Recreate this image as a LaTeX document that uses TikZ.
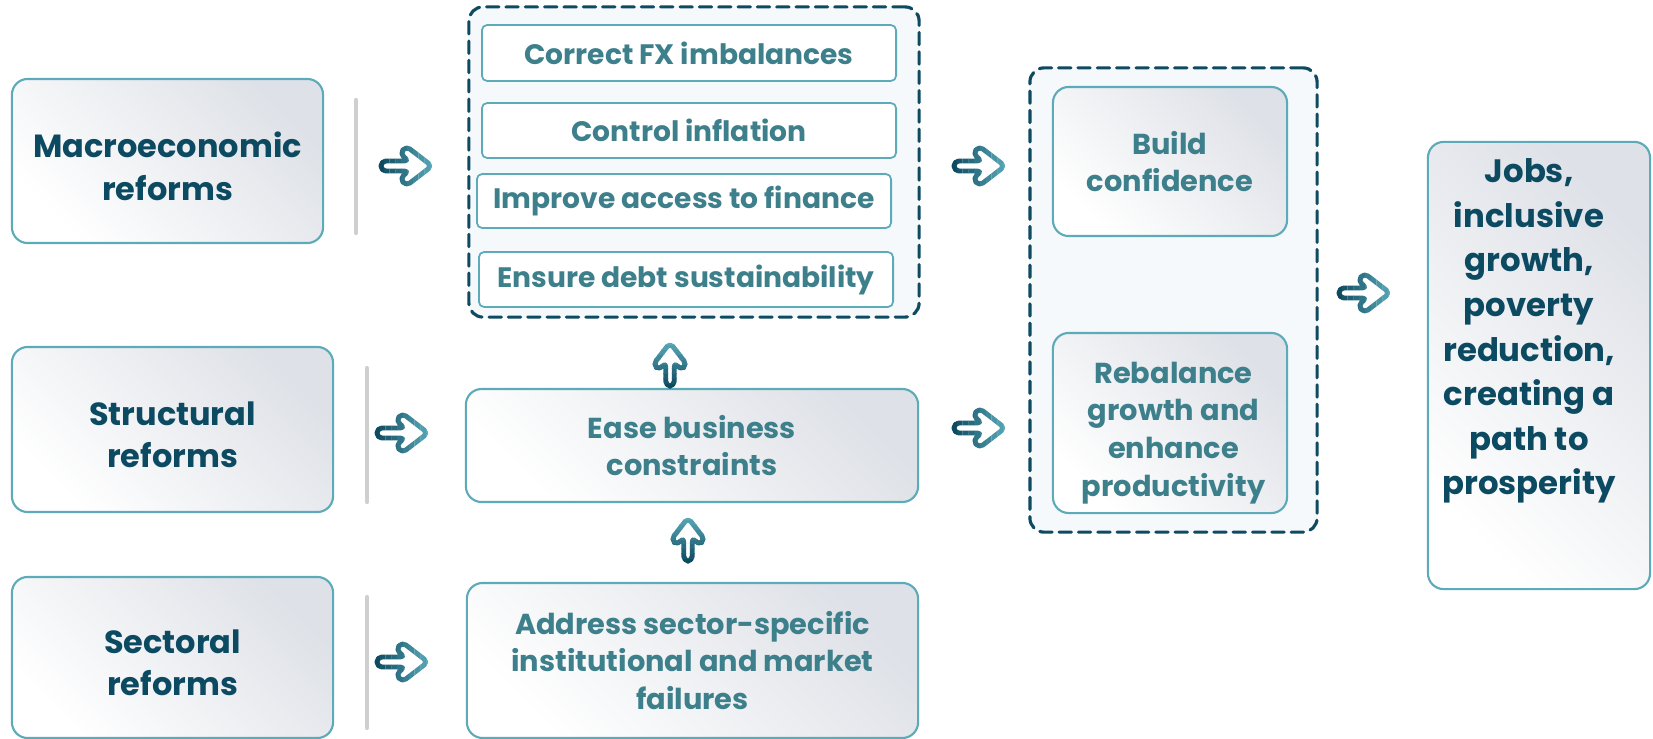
\documentclass[tikz,border=0pt]{standalone}
\usepackage{fontspec}
\setmainfont{Poppins}
\usetikzlibrary{positioning}
\definecolor{darktext}{HTML}{0C4A62}
\definecolor{midtext}{HTML}{3D808C}
\definecolor{bordteal}{HTML}{5DAAB8}
\definecolor{dashteal}{HTML}{0E4A60}
\definecolor{boxgray}{HTML}{DEE1E7}
\definecolor{dashfill}{HTML}{F5F9FB}
\definecolor{arrowdark}{HTML}{0E4A60}
\definecolor{arrowlight}{HTML}{5AAAB9}
\definecolor{sepgray}{HTML}{CFCFCF}
\tikzset{
	lbox/.style={draw=bordteal, line width=0.6pt, rounded corners=4.5pt, inner sep=0pt,
		left color=white, right color=boxgray, shading angle=135},
	ltext/.style={text=darktext, align=center, font=\bfseries\fontsize{9.1}{12.2}\selectfont},
	mbox/.style={lbox, text=midtext, align=center, font=\bfseries\fontsize{8.2}{10.7}\selectfont},
	mtext/.style={text=midtext, align=center, font=\bfseries\fontsize{8.2}{10.7}\selectfont},
	ibox/.style={draw=bordteal, line width=0.5pt, rounded corners=1.5pt, fill=white, inner sep=0pt,
		text=midtext, align=center, font=\bfseries\fontsize{8}{10}\selectfont,
		minimum width=4.14cm},
	grp/.style={draw=dashteal, fill=dashfill, line width=0.9pt, dash pattern=on 3.5pt off 2pt,
		rounded corners=4pt, inner sep=0pt},
	sepline/.style={draw=sepgray, line width=1.2pt},
	pics/fwdarrow/.style={code={
		\foreach \i [evaluate=\i as \pc using int(\i*11)] in {0,...,9}{
			\begin{scope}
				\clip (-29+5.8*\i,-30) rectangle ++(5.9,60);
				\draw[line width=1.4pt, draw=arrowlight!\pc!arrowdark, rounded corners=1.4pt, line join=round]
				(-26,-5) -- (2.1,-5) -- (-7.1,-12.1) -- (-1,-20) -- (25,0) -- (-1,20)
				-- (-7.1,12.1) -- (2.1,5) -- (-26,5) -- cycle;
			\end{scope}
		}
	}}
}
\begin{document}
\begin{tikzpicture}[x=0.01cm, y=-0.01cm, line join=round, line cap=round]
	\useasboundingbox (0,0) rectangle (1653,739);
	%% Khung nét đứt
	\node[grp, minimum width=4.50cm, minimum height=3.10cm] (grpA) at (694,162) {};
	\node[grp, minimum width=2.87cm, minimum height=4.64cm] (grpB) at (1173.5,300) {};
	
	%% Cột trái
	\node[lbox, minimum width=3.11cm, minimum height=1.64cm] (Mac) at (167.5,161) {};
	\node[lbox, minimum width=3.21cm, minimum height=1.65cm] (Str) at (172.5,429.5) {};
	\node[lbox, minimum width=3.21cm, minimum height=1.61cm] (Sec) at (172.5,657.5) {};
	\node[ltext] (MacT) at ([yshift=-1.5pt]Mac.center) {Macroeconomic\\reforms};
	\node[ltext] (StrT) at ([yshift=-1.5pt]Str.center) {Structural\\reforms};
	\node[ltext] (SecT) at ([yshift=-1.5pt]Sec.center) {Sectoral\\reforms};
	
	%% Cột giữa
	\node[ibox, minimum height=0.56cm] (FX) at (689,53) {Correct FX imbalances};
	\node[ibox, minimum height=0.55cm] (Inf) at (689,130.5) {Control inflation};
	\node[ibox, minimum height=0.54cm] (Fin) at (684,201) {Improve access to finance};
	\node[ibox, minimum height=0.55cm] (Debt) at (686,279.5) {Ensure debt sustainability};
	\node[mbox, minimum width=4.52cm, minimum height=1.13cm] (Ease) at (692,445.5) {Ease business\\constraints};
	\node[mbox, minimum width=4.51cm, minimum height=1.55cm] (Addr) at (692.5,660.5) {Address sector-specific\\institutional and market\\failures};
	
	%% Cột phải
	\node[mbox, minimum width=2.34cm, minimum height=1.49cm] (Conf) at (1170,161.5) {Build\\confidence};
	\node[lbox, minimum width=2.34cm, minimum height=1.80cm] (Reb) at (1170,423) {};
	\node[mtext] (RebT) at ([xshift=1pt, yshift=-2.8pt]Reb.center) {Rebalance\\growth and\\enhance\\productivity};
	\node[lbox, minimum width=2.22cm, minimum height=4.47cm] (Goal) at (1539,365.5) {};
	\node[ltext, font=\bfseries\fontsize{9.2}{12.7}\selectfont] (GoalT) at (1529,331)
	{Jobs,\\inclusive\\growth,\\poverty\\reduction,\\creating a\\path to\\prosperity};
	
	%% Khai bao diem
	\path 
	(407,166) coordinate (A1)
	(403,433) coordinate (A2)
	(403,662) coordinate (A3)
	(980,166) coordinate (A4)
	(980,428) coordinate (A5)
	(1365,293) coordinate (A6)
	(670,364) coordinate (U1)
	(688,539) coordinate (U2)
	;
	%% vạch ngăn
	\foreach \x/\a/\b in {356/100/233,367/368/502,367/597/728}
	\draw[sepline] (\x,\a)--(\x,\b);
	%% mũi tên
	\foreach \p/\r/\s in {A1/0/1,A2/0/1,A3/0/1,A4/0/1,A5/0/1,A6/0/1,U1/90/0.85,U2/90/0.85}
	\pic[rotate=\r, scale=\s] at (\p) {fwdarrow};
\end{tikzpicture}
\end{document}
